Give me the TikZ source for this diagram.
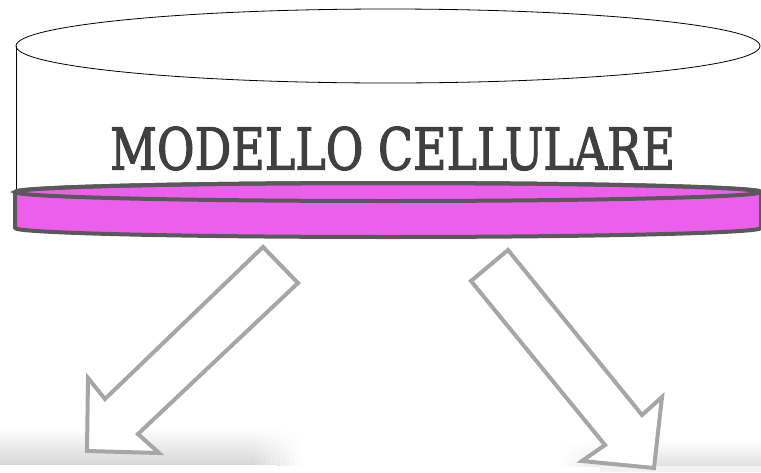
\documentclass[tikz,border=0pt]{standalone}
\usepackage{fontspec}
\newfontfamily\titlefont[FakeBold=2]{DejaVu Serif Condensed}
\usepackage{graphicx}
\definecolor{bandpink}{RGB}{236,95,236}
\definecolor{bandgray}{RGB}{89,89,89}
\definecolor{arrowgray}{RGB}{166,166,166}
\definecolor{textgray}{RGB}{64,64,64}
\tikzset{
  bigarrow/.style={draw=arrowgray, line width=4pt, fill=white, line join=miter},
  bandstyle/.style={draw=bandgray, line width=4pt, fill=bandpink, line join=round},
}
\begin{document}
\begin{tikzpicture}[x=1pt,y=-1pt]
\useasboundingbox (0,0) rectangle (761,472);
% bottom shadows of boxes below
\shade[top color=white, bottom color=black!16] (0,428) rectangle (250,465);
\foreach \i in {0,...,9}{
  \pgfmathsetmacro{\k}{16*(1-\i/10)}
  \shade[top color=white, bottom color=black!\k] (250+5*\i,428) rectangle (255+5*\i,465);
}
\fill[white] (0,465) rectangle (276,472);
\shade[top color=white, bottom color=black!12] (620,440) rectangle (761,466);
\foreach \i in {0,...,9}{
  \pgfmathsetmacro{\k}{12*(1-\i/10)}
  \shade[top color=white, bottom color=black!\k] (615-6*\i,440) rectangle (621-6*\i,466);
}
\fill[black!5] (600,466) rectangle (761,472);
% outer cylinder
\draw[black, line width=0.8pt] (16,46) -- (16,192);
\draw[black, line width=0.8pt] (388,46) ellipse [x radius=372, y radius=37];
% text
\node[inner sep=0pt, text=textgray] (title) at (392.5,148.5)
  {\resizebox{565pt}{43pt}{\titlefont MODELLO CELLULARE}};
% pink band
\path[bandstyle] (15,192) -- (15,228) arc[start angle=180, end angle=0, x radius=373, y radius=9]
  -- (761,192) arc[start angle=0, end angle=-180, x radius=373, y radius=9] -- cycle;
\draw[draw=bandgray, line width=4pt] (388,192) ellipse [x radius=373, y radius=9];
% arrows
\draw[bigarrow] (263,247) -- (298,283) -- (138,434) -- (159,453) -- (87,451) -- (88,378) -- (105,399) -- cycle;
\draw[bigarrow] (508,250) -- (471,281) -- (605,445) -- (582,461) -- (654,468) -- (662,397) -- (642,415) -- cycle;
\end{tikzpicture}
\end{document}
